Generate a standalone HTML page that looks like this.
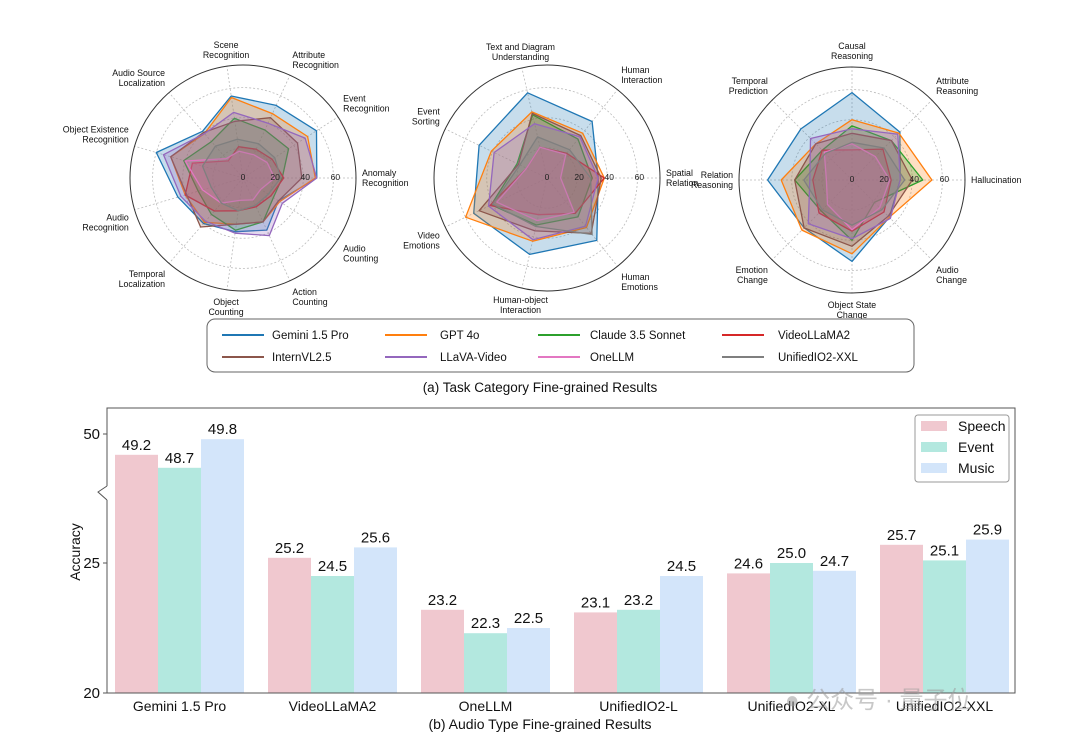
<!DOCTYPE html>
<html><head><meta charset="utf-8"><style>
html,body{margin:0;padding:0;background:#fff;}
svg{display:block;font-family:"Liberation Sans","Noto Sans CJK SC",sans-serif;}
</style></head><body>
<svg id="root" width="1080" height="744" viewBox="0 0 1080 744" xmlns="http://www.w3.org/2000/svg">
<g id="radars"></g>
<g id="legendA">
 <rect x="207" y="319" width="707" height="53" rx="8" fill="#fff" stroke="#666" stroke-width="1"/>
</g>
<text x="540" y="392" text-anchor="middle" font-size="13.5" fill="#111">(a) Task Category Fine-grained Results</text>
<g id="bars"></g>
<text x="540" y="729" text-anchor="middle" font-size="14" fill="#111">(b) Audio Type Fine-grained Results</text>
<text x="785" y="708" font-size="24" fill="#9a9a9a" fill-opacity="0.55">● 公众号 · 量子位</text>
</svg>
<script>
// ---------- Radar data ----------
const r1Labels = ["Anomaly\nRecognition","Event\nRecognition","Attribute\nRecognition","Scene\nRecognition","Audio Source\nLocalization","Object Existence\nRecognition","Audio\nRecognition","Temporal\nLocalization","Object\nCounting","Action\nCounting","Audio\nCounting"];
const r1Gemini = [49,58,53,55,41,60,45,40,36,38,28];
const r1Gpt = [48,51,47,54,39,50,40,39,31,32,29];
const r1Claude = [26,36,35,40,32,41,31,32,35,32,24];
const r1VideoLLaMA = [27,23,21,21,15,35,40,29,22,21,22];
const r1Intern = [39,43,44,38,40,50,39,43,31,32,28];
const r1Llava = [49,49,40,44,39,55,43,38,37,42,31];
const r1OneLLM = [21,19,17,18,17,40,28,22,15,16,14];
const r1Unified = [25,25,25,26,28,28,22,22,22,20,20];

const r2Labels = ["Spatial\nRelation","Human\nInteraction","Text and Diagram\nUnderstanding","Event\nSorting","Video\nEmotions","Human-object\nInteraction","Human\nEmotions"];
const r2Gemini = [34,48,58,50,54,52,53];
const r2Gpt = [38,38,45,41,60,43,42];
const r2Claude = [30,33,43,22,41,32,33];
const r2VideoLLaMA = [38,21,21,15,42,25,30];
const r2Intern = [36,36,44,21,50,36,47];
const r2Llava = [34,35,37,39,43,42,41];
const r2OneLLM = [9,20,21,15,37,29,29];
const r2Unified = [29,24,28,20,40,33,48];

const r3Labels = ["Hallucination","Attribute\nReasoning","Causal\nReasoning","Temporal\nPrediction","Relation\nReasoning","Emotion\nChange","Object State\nChange","Audio\nChange"];
const r3Gemini = [32,45,58,48,56,45,54,35];
const r3Gpt = [53,44,40,34,47,47,49,35];
const r3Claude = [47,37,36,28,38,29,40,21];
const r3VideoLLaMA = [26,29,20,28,26,31,34,30];
const r3Intern = [40,37,31,34,38,45,44,34];
const r3Llava = [32,43,34,39,28,41,39,36];
const r3OneLLM = [25,22,24,26,17,23,33,26];
const r3Unified = [35,30,25,25,32,28,30,28];

const rTicks = ["0","20","40","60"];
const seriesNames = ["Gemini 1.5 Pro","GPT 4o","Claude 3.5 Sonnet","VideoLLaMA2","InternVL2.5","LLaVA-Video","OneLLM","UnifiedIO2-XXL"];
const seriesColors = ["#1f77b4","#ff7f0e","#2ca02c","#d62728","#8c564b","#9467bd","#e377c2","#7f7f7f"];

// ---------- Bar data ----------
const barCategories = ["Gemini 1.5 Pro","VideoLLaMA2","OneLLM","UnifiedIO2-L","UnifiedIO2-XL","UnifiedIO2-XXL"];
const speechValues = [49.2,25.2,23.2,23.1,24.6,25.7];
const eventValues = [48.7,24.5,22.3,23.2,25.0,25.1];
const musicValues = [49.8,25.6,22.5,24.5,24.7,25.9];
const barTickLabels = ["20","25","50"];
const barTickValues = [20,25,50];

const NS="http://www.w3.org/2000/svg";
function mk(tag,attrs,parent){const e=document.createElementNS(NS,tag);for(const k in attrs)e.setAttribute(k,attrs[k]);parent.appendChild(e);return e;}

const RMAX=75, RPIX=113;
function drawRadar(cx,cy,labels,series,id){
  const g=mk('g',{},document.getElementById('radars'));
  
  
  const n=labels.length;
  const rs=v=>v/RMAX*RPIX;
  const ang=i=>i*2*Math.PI/n;
  [20,40,60].forEach(v=>{
    const c=mk('circle',{cx:cx,cy:cy,r:rs(v),fill:'none',stroke:'#bbb','stroke-width':0.8,'stroke-dasharray':'2,2'},g);
    
    
  });
  for(let i=0;i<n;i++){
    const a=ang(i);
    const l=mk('line',{x1:cx,y1:cy,x2:cx+RPIX*Math.cos(a),y2:cy-RPIX*Math.sin(a),stroke:'#bbb','stroke-width':0.8,'stroke-dasharray':'2,2'},g);
    
    
  }
  const oc=mk('circle',{cx:cx,cy:cy,r:RPIX,fill:'none',stroke:'#333','stroke-width':1},g);
  
  
  series.forEach((vals,si)=>{
    const pts=vals.map((v,i)=>{const a=ang(i);return (cx+rs(v)*Math.cos(a)).toFixed(1)+','+(cy-rs(v)*Math.sin(a)).toFixed(1);}).join(' ');
    const p=mk('polygon',{points:pts,fill:seriesColors[si],'fill-opacity':0.25,stroke:seriesColors[si],'stroke-width':1.3,'stroke-linejoin':'round'},g);
    
    
  });
  rTicks.forEach(t=>{
    const v=+t;
    const tx=mk('text',{x:cx+rs(v)+(v===0?0:2),y:cy+2,'text-anchor':'middle','font-size':8.5,fill:'#222'},g);
    tx.textContent=t;
    
    
  });
  labels.forEach((lab,i)=>{
    const a=ang(i),c=Math.cos(a),s=Math.sin(a);
    const R=119;
    const px=cx+R*c, py=cy-R*s;
    const lines=lab.split('\n');
    const anchor=c>0.25?'start':(c<-0.25?'end':'middle');
    let y0;
    if(s>0.25) y0=py-(lines.length-1)*10-2;
    else if(s<-0.25) y0=py+9;
    else y0=py-(lines.length-1)*5+3;
    const t=mk('text',{x:px,y:y0,'text-anchor':anchor,'font-size':8.8,fill:'#111'},g);
    
    
    lines.forEach((ln,k)=>{const ts=mk('tspan',{x:px,y:y0+k*10},t);ts.textContent=ln;});
  });
}
drawRadar(243,178,r1Labels,[r1Gemini,r1Gpt,r1Claude,r1VideoLLaMA,r1Intern,r1Llava,r1OneLLM,r1Unified],'radar-perception');
drawRadar(547,178,r2Labels,[r2Gemini,r2Gpt,r2Claude,r2VideoLLaMA,r2Intern,r2Llava,r2OneLLM,r2Unified],'radar-understanding');
drawRadar(852,180,r3Labels,[r3Gemini,r3Gpt,r3Claude,r3VideoLLaMA,r3Intern,r3Llava,r3OneLLM,r3Unified],'radar-reasoning');

// radar legend
(function(){
  const g=document.getElementById('legendA');
  const lx=[222,385,538,722], tx=[272,440,590,778], ly=[335,357];
  seriesNames.forEach((nm,i)=>{
    const col=i%4,row=Math.floor(i/4);
    const e=mk('g',{},g);
    
    
    mk('line',{x1:lx[col],y1:ly[row],x2:lx[col]+42,y2:ly[row],stroke:seriesColors[i],'stroke-width':2},e);
    const t=mk('text',{x:tx[col],y:ly[row]+4,'font-size':11.5,fill:'#111'},e);
    t.textContent=nm;
  });
})();

// bar chart
(function(){
  const g=document.getElementById('bars');
  const L=107,R=1015,T=408,B=693;
  const y=v=>v>=40?434-(v-50)*26:693-(v-20)*26;
  const bw=43, pitch=153, x0=115;
  const cols=['#f0c8cf','#b3e8df','#d3e5fa'];
  const sets=[speechValues,eventValues,musicValues];
  const names=['speech','event','music'];
  barCategories.forEach((c,ci)=>{
    sets.forEach((arr,si)=>{
      const v=arr[ci];
      const bx=x0+ci*pitch+si*bw;
      const r=mk('rect',{x:bx,y:y(v),width:bw,height:B-y(v),fill:cols[si]},g);
      
      
      const t=mk('text',{x:bx+bw/2,y:y(v)-5,'text-anchor':'middle','font-size':15,fill:'#111'},g);
      t.textContent=v.toFixed(1);
      
      
    });
    const t=mk('text',{x:x0+ci*pitch+bw*1.5,y:711,'text-anchor':'middle','font-size':14,fill:'#111'},g);
    t.textContent=c;
    
    
  });
  const ax=mk('path',{d:`M${L},500 L${L},${B} L${R},${B} L${R},${T} L${L},${T} L${L},486`,fill:'none',stroke:'#555','stroke-width':1},g);
  
  
  const br=mk('polyline',{points:`${L},486 ${L-9},492 ${L},500`,fill:'none',stroke:'#555','stroke-width':1},g);
  
  
  barTickValues.forEach((v,i)=>{
    mk('line',{x1:L-4,y1:y(v),x2:L,y2:y(v),stroke:'#555'},g);
    const t=mk('text',{x:L-7,y:y(v)+5,'text-anchor':'end','font-size':15,fill:'#111'},g);
    t.textContent=barTickLabels[i];
    
    
  });
  const yl=mk('text',{x:0,y:0,transform:'translate(80,552) rotate(-90)','text-anchor':'middle','font-size':14,fill:'#111'},g);
  yl.textContent='Accuracy';
  
  
  const lg=mk('g',{},g);
  
  
  mk('rect',{x:915,y:415,width:94,height:67,rx:3,fill:'#fff',stroke:'#999'},lg);
  ['Speech','Event','Music'].forEach((nm,i)=>{
    const e=mk('g',{},lg);
    
    
    mk('rect',{x:921,y:421+i*21,width:26,height:10,fill:cols[i]},e);
    const t=mk('text',{x:958,y:431+i*21,'font-size':14,fill:'#111'},e);
    t.textContent=nm;
  });
})();
</script>
</body></html>
